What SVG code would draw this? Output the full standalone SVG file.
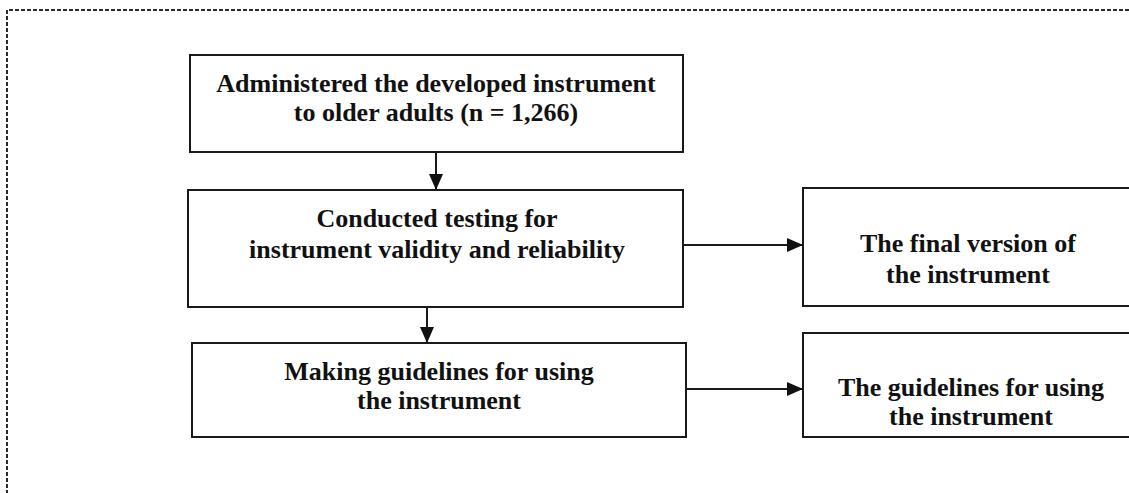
<svg xmlns="http://www.w3.org/2000/svg" width="1129" height="493" viewBox="0 0 1129 493">
<defs>
<style>
.box{fill:#fff;stroke:#1a1a1a;stroke-width:2}
.t{font-family:"Liberation Serif","Times New Roman",serif;font-weight:bold;font-size:26px;fill:#111;text-anchor:middle}
.c{stroke:#1a1a1a;stroke-width:2;fill:none}
</style>
<marker id="ah" viewBox="0 0 16 14" refX="16" refY="7" markerWidth="16" markerHeight="14" markerUnits="userSpaceOnUse" orient="auto">
<path d="M0,0 L16,7 L0,14 Z" fill="#111"/>
</marker>
</defs>
<rect width="1129" height="493" fill="#fff"/>
<path d="M7,500 L7,10 L1135,10" fill="none" stroke="#2a2a33" stroke-width="2" stroke-dasharray="4,2"/>
<g id="n1"><rect class="box" x="190" y="55" width="493" height="97"/>
<text class="t" x="436" y="92">Administered the developed instrument</text>
<text class="t" x="436" y="121">to older adults (n = 1,266)</text></g>
<g id="n2"><rect class="box" x="188" y="190" width="495" height="117"/>
<text class="t" x="437" y="227">Conducted testing for</text>
<text class="t" x="437" y="258">instrument validity and reliability</text></g>
<g id="n3"><rect class="box" x="192" y="343" width="494" height="94"/>
<text class="t" x="439" y="380">Making guidelines for using</text>
<text class="t" x="439" y="409">the instrument</text></g>
<g id="n4"><rect class="box" x="803" y="188" width="340" height="118"/>
<text class="t" x="968" y="252">The final version of</text>
<text class="t" x="968" y="283">the instrument</text></g>
<g id="n5"><rect class="box" x="803" y="333" width="340" height="104"/>
<text class="t" x="971" y="396">The guidelines for using</text>
<text class="t" x="971" y="425">the instrument</text></g>
<g id="connectors">
<line class="c" x1="436" y1="152" x2="436" y2="190" marker-end="url(#ah)"/>
<line class="c" x1="427" y1="307" x2="427" y2="343" marker-end="url(#ah)"/>
<line class="c" x1="683" y1="245" x2="803" y2="245" marker-end="url(#ah)"/>
<line class="c" x1="686" y1="389" x2="803" y2="389" marker-end="url(#ah)"/>
</g>
</svg>
